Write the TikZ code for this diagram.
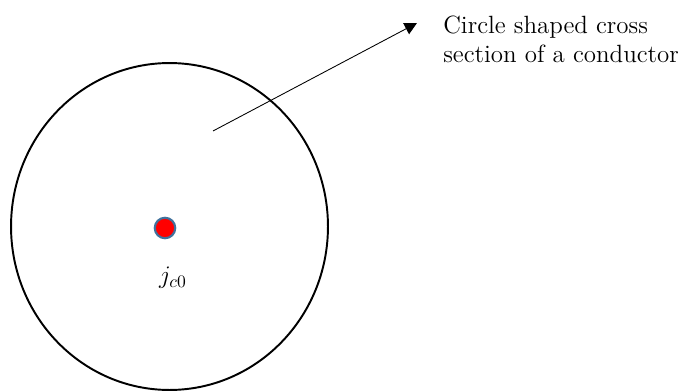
\documentclass[tikz,border=0pt]{standalone}
\usepackage{amsmath}
\usepackage{xcolor}
\usetikzlibrary{arrows.meta,positioning,shapes.geometric}

\definecolor{dotred}{RGB}{255,0,0}
\definecolor{dotedge}{RGB}{65,113,156}

\begin{document}
\begin{tikzpicture}[
    x=0.02cm, y=-0.02cm,
    conductor/.style={ellipse, draw, line width=1.1pt, minimum width=6.34cm, minimum height=6.54cm, inner sep=0pt},
    carrier/.style={circle, draw=dotedge, fill=dotred, line width=1.2pt, minimum size=0.41cm, inner sep=0pt},
    caption/.style={align=left, font=\fontsize{14.2}{16.5}\selectfont, inner sep=0pt},
    arrow/.style={-{Triangle[length=7pt,width=7pt]}, line width=0.5pt}
]
\useasboundingbox (0,0) rectangle (683,392);

% conductor cross section
\node[conductor] (cond) at (169.5,226.5) {};
\node[carrier] (jc) at (165,228) {};
\node[font=\Large] (jclbl) at (173,278) {$j_{c0}$};

% pointer to the description
\coordinate (src) at (213,131);
\coordinate (tip) at (417,23);
\node[caption, anchor=north west] (desc) at (443,16) {Circle shaped cross\\section of a conductor};
\draw[arrow] (src) -- (tip);

\end{tikzpicture}
\end{document}
